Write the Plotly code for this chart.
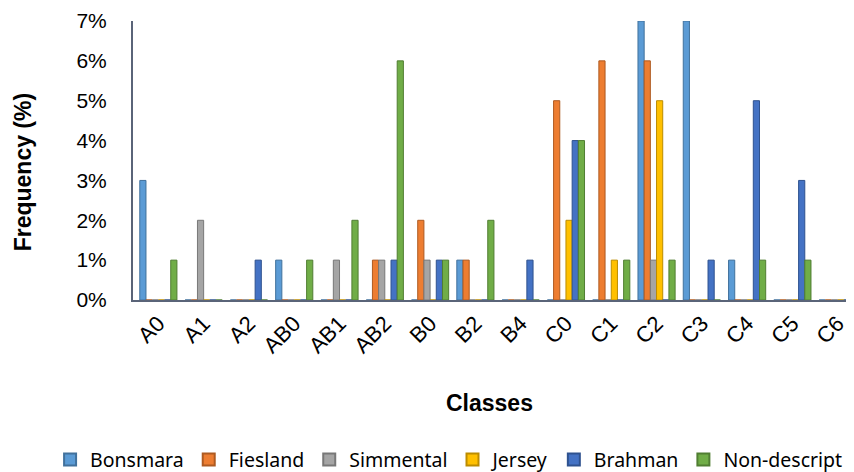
import plotly.graph_objects as go

classes = ["A0", "A1", "A2", "AB0", "AB1", "AB2", "B0", "B2", "B4",
           "C0", "C1", "C2", "C3", "C4", "C5", "C6"]

bonsmara     = [3, 0, 0, 1, 0, 0, 0, 1, 0, 0, 0, 7, 7, 1, 0, 0]
fiesland     = [0, 0, 0, 0, 0, 1, 2, 1, 0, 5, 6, 6, 0, 0, 0, 0]
simmental    = [0, 2, 0, 0, 1, 1, 1, 0, 0, 0, 0, 1, 0, 0, 0, 0]
jersey       = [0, 0, 0, 0, 0, 0, 0, 0, 0, 2, 1, 5, 0, 0, 0, 0]
brahman      = [0, 0, 1, 0, 0, 1, 1, 0, 1, 4, 0, 0, 1, 5, 3, 0]
non_descript = [1, 0, 0, 1, 2, 6, 1, 2, 0, 4, 1, 1, 0, 1, 1, 2]

series = [
    ("Bonsmara", bonsmara, "#5B9BD5", "#41719C"),
    ("Fiesland", fiesland, "#ED7D31", "#AE5A21"),
    ("Simmental", simmental, "#A5A5A5", "#787878"),
    ("Jersey", jersey, "#FFC000", "#BC8C00"),
    ("Brahman", brahman, "#4472C4", "#2F528F"),
    ("Non-descript", non_descript, "#70AD47", "#507E32"),
]

fig = go.Figure()
for name, vals, col, edge in series:
    fig.add_trace(go.Bar(
        x=list(range(len(classes))), y=vals, name=name,
        marker=dict(color=col, line=dict(color=edge, width=1)),
    ))

# The page body adds an 8px offset, so the figure is sized to fill the window exactly.
fig.update_layout(
    width=846, height=464,
    margin=dict(l=125, r=0, t=13, b=172, autoexpand=False),
    paper_bgcolor="white", plot_bgcolor="white",
    barmode="group", bargap=0.18, bargroupgap=0,
    font=dict(family="Arial, Liberation Sans", color="#000000"),
    showlegend=True,
    legend=dict(orientation="h", x=-0.115, xanchor="left", y=-0.573, yanchor="middle",
                font=dict(family="Noto Sans", size=19.5, color="#000000"),
                itemsizing="constant", traceorder="normal", itemwidth=30),
    xaxis=dict(
        range=[-0.56, 15.36], automargin=False,
        tickmode="array", tickvals=list(range(len(classes))), ticktext=classes,
        tickangle=-45, tickfont=dict(size=22, color="#000000"),
        showline=True, linecolor="#5A6478", linewidth=2,
        showgrid=False, zeroline=False, ticks="",
    ),
    yaxis=dict(
        range=[0, 7], automargin=False, tickmode="array", tickvals=[0, 1, 2, 3, 4, 5, 6, 7],
        ticktext=["0%", "1%", "2%", "3%", "4%", "5%", "6%", "7%"],
        tickfont=dict(size=21, color="#000000"),
        showline=True, linecolor="#5A6478", linewidth=2,
        showgrid=False, zeroline=False, ticks="", ticklabelstandoff=20,
    ),
    annotations=[
        dict(text="<b>Classes</b>", xref="paper", yref="paper", x=0.495, y=-0.369,
             xanchor="center", yanchor="middle", showarrow=False,
             font=dict(size=23, family="Arial, Liberation Sans", color="#000000")),
        dict(text="<b>Frequency (%)</b>", xref="paper", yref="paper", x=-0.152, y=0.459,
             xanchor="center", yanchor="middle", showarrow=False, textangle=-90,
             font=dict(size=23, family="Arial, Liberation Sans", color="#000000")),
    ],
)

fig.write_html("out.html")
